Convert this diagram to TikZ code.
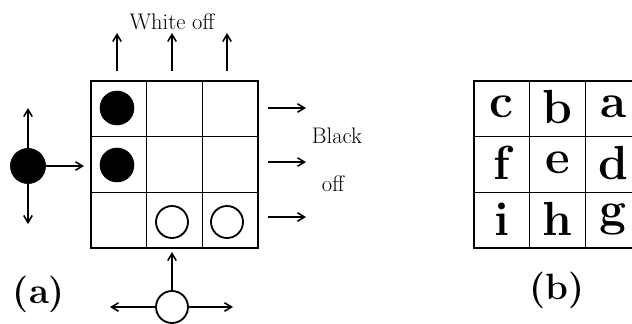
\documentclass[tikz,border=0pt]{standalone}
\usetikzlibrary{arrows.meta}

\begin{document}
\begin{tikzpicture}[x=0.025cm, y=-0.025cm,
    blk/.style={circle, fill=black, draw=black, minimum size=0.85cm, inner sep=0pt},
    wht/.style={circle, fill=white, draw=black, line width=1.3pt, minimum size=0.8cm, inner sep=0pt},
    arr/.style={-{Straight Barb[length=5pt, width=6pt]}, line width=1.1pt},
    lbl/.style={font=\fontsize{16}{18}\selectfont, inner sep=0pt},
    cell/.style={font=\fontsize{34}{36}\selectfont\bfseries, inner sep=0pt},
    tag/.style={font=\fontsize{26}{28}\selectfont\bfseries, inner sep=0pt},
  ]
    \useasboundingbox (0,0) rectangle (632,323);

    % Brett (a)
    \foreach \x in {146.7,202.4}
      \draw[line width=0.8pt] (\x,81) -- (\x,248);
    \foreach \y in {136.7,192.4}
      \draw[line width=0.8pt] (91,\y) -- (258,\y);
    \draw[line width=1.8pt] (91,81) rectangle (258,248);

    % Steine auf dem Brett
    \node[blk] (b1) at (117,108) {};
    \node[blk] (b2) at (117,165) {};
    \node[wht] (w1) at (172,222) {};
    \node[wht] (w2) at (227,222) {};

    % Schwarzer Stein links
    \node[blk, minimum size=0.88cm] (ls) at (28,166) {};
    \coordinate (lsU) at (28,108);
    \coordinate (lsD) at (28,224);
    \coordinate (lsR) at (84,166);
    \draw[arr] (ls.north) -- (lsU);
    \draw[arr] (ls.south) -- (lsD);
    \draw[arr] (ls.east) -- (lsR);

    % Weisser Stein unten
    \node[wht] (bs) at (172,307) {};
    \coordinate (bsU) at (172,252);
    \coordinate (bsL) at (110,307);
    \coordinate (bsR) at (233,307);
    \draw[arr] (bs.north) -- (bsU);
    \draw[arr] (bs.west) -- (bsL);
    \draw[arr] (bs.east) -- (bsR);

    % White off
    \foreach \x [count=\i] in {117,172,227} {
      \coordinate (t\i) at (\x,71);
      \coordinate (T\i) at (\x,33);
      \draw[arr] (t\i) -- (T\i);
    }
    \node[lbl] (woff) at (172,22) {White off};

    % Black off
    \foreach \y [count=\i] in {108,162,217} {
      \coordinate (r\i) at (268,\y);
      \coordinate (R\i) at (306,\y);
      \draw[arr] (r\i) -- (R\i);
    }
    \node[lbl] (boff1) at (337,136) {Black};
    \node[lbl] (boff2) at (333,184) {off};

    \node[tag] (ta) at (39,294) {(a)};

    % Brett (b)
    \foreach \x in {529.7,585.4}
      \draw[line width=0.8pt] (\x,81) -- (\x,248);
    \foreach \y in {136.7,192.4}
      \draw[line width=0.8pt] (474,\y) -- (641,\y);
    \draw[line width=1.8pt] (474,81) rectangle (641,248);
    \foreach \c [count=\i] in {c,b,a} \node[cell] (p\c) at (474+55.7*\i-27.8,107) {\c};
    \foreach \c [count=\i] in {f,e,d} \node[cell] (p\c) at (474+55.7*\i-27.8,163) {\c};
    \foreach \c [count=\i] in {i,h,g} \node[cell] (p\c) at (474+55.7*\i-27.8,219) {\c};

    \node[tag] (tb) at (557,290) {(b)};
\end{tikzpicture}
\end{document}
